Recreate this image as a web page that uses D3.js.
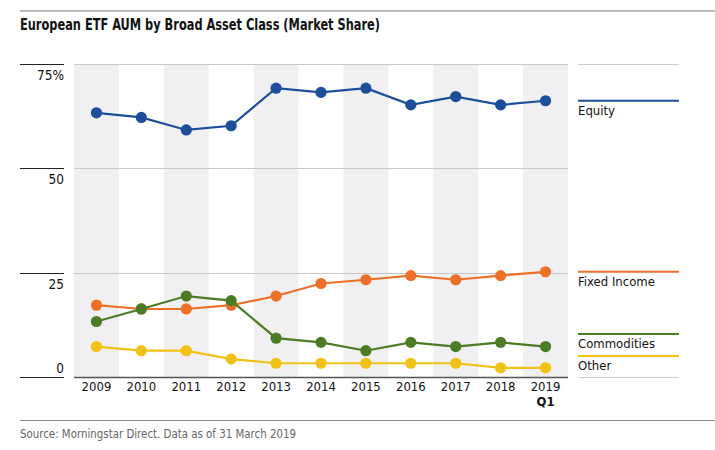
<!DOCTYPE html>
<html>
<head>
<meta charset="utf-8">
<script src="https://cdn.jsdelivr.net/npm/d3@7"></script>
<style>
    body { margin: 0; background: #fff; }
    text { font-family: "DejaVu Sans Condensed", "DejaVu Sans", sans-serif; font-stretch: condensed; }
</style>
</head>
<body>
<script>
// set the dimensions and margins of the graph
var width = 715
var height = 450
var margin = { top: 64, left: 74, right: 147, bottom: 73 }

const years = ['2009', '2010', '2011', '2012', '2013', '2014', '2015', '2016', '2017', '2018', '2019']
const seriesNames = ['Equity', 'Fixed Income', 'Commodities', 'Other']
const seriesColors = ['#1c4e9b', '#ec7028', '#4b7c23', '#f2c116']
const equity      = [63.3, 62.2, 59.2, 60.2, 69.2, 68.2, 69.2, 65.2, 67.2, 65.2, 66.2]
const fixedIncome = [17.2, 16.3, 16.3, 17.2, 19.4, 22.4, 23.3, 24.3, 23.3, 24.3, 25.2]
const commodities = [13.3, 16.3, 19.4, 18.3, 9.3, 8.3, 6.3, 8.3, 7.3, 8.3, 7.3]
const other       = [7.3, 6.3, 6.3, 4.3, 3.3, 3.3, 3.3, 3.3, 3.3, 2.2, 2.2]
const yTicks = [0, 25, 50, 75]
const yTickLabels = ['0', '25', '50', '75%']

const seriesValues = [equity, fixedIncome, commodities, other]

var svg = d3.select("body").append("svg")
    .attr("width", width)
    .attr("height", height);

var xScale = d3.scaleBand()
    .domain(years)
    .range([margin.left, width - margin.right])

var yScale = d3.scaleLinear()
    .domain([0, 75])
    .range([height - margin.bottom, margin.top])

var legendX1 = width - margin.right + 10
var legendX2 = legendX1 + 101

// top rule and title
svg.append("line")
    .attr("x1", 20).attr("x2", width)
    .attr("y1", 11).attr("y2", 11)
    .style("stroke", "#777").style("stroke-width", 1)

svg.append("text")
    .attr("x", 20).attr("y", 30)
    .attr("textLength", 360).attr("lengthAdjust", "spacingAndGlyphs")
    .style("font-size", "16px").style("font-weight", "bold").style("fill", "#111")
    .text("European ETF AUM by Broad Asset Class (Market Share)")

// alternating bands
svg.selectAll("rect.band")
    .data(years.filter((d, i) => i % 2 == 0))
    .enter()
    .append("rect")
    .attr("class", "band")
    .attr("x", d => xScale(d))
    .attr("width", xScale.bandwidth())
    .attr("y", yScale(75))
    .attr("height", yScale(0) - yScale(75))
    .style("fill", "#f0f0f3")

// grid lines: left tick segment, plot, legend column
yTicks.forEach(function (t, i) {
    var y = Math.round(yScale(t)) + 0.5
    svg.append("line")
        .attr("x1", 20).attr("x2", 64).attr("y1", y).attr("y2", y)
        .style("stroke", "#222").style("stroke-width", 1.2)
    svg.append("line")
        .attr("x1", margin.left).attr("x2", width - margin.right).attr("y1", y).attr("y2", y)
        .style("stroke", t == 0 ? "#555" : "#c8c8c8").style("stroke-width", t == 0 ? 1.3 : 1)
    if (t == 0 || t == 75) {
        svg.append("line")
            .attr("x1", legendX1).attr("x2", legendX2).attr("y1", y).attr("y2", y)
            .style("stroke", "#cfcfcf").style("stroke-width", 1)
    }
    svg.append("text")
        .attr("x", 64)
        .attr("y", t == 0 ? y - 5 : y + 15)
        .attr("text-anchor", "end")
        .style("font-size", "13.5px").style("fill", "#111")
        .text(yTickLabels[i])
})

// x axis labels
var xAxis = d3.axisBottom(xScale).tickSize(0).tickPadding(5)
var gx = svg.append("g")
    .attr("transform", "translate(0," + yScale(0) + ")")
    .call(xAxis)
gx.select(".domain").remove()
gx.selectAll("text")
    .style("font-size", "13px").style("fill", "#111")
    .style("font-family", "'DejaVu Sans Condensed', 'DejaVu Sans', sans-serif")
gx.append("text")
    .attr("x", xScale('2019') + xScale.bandwidth() / 2)
    .attr("y", 29)
    .attr("text-anchor", "middle")
    .style("font-size", "13px").style("font-weight", "bold").style("fill", "#111")
    .text("Q1")

// lines and dots
var line = d3.line()
    .x((d, i) => xScale(years[i]) + xScale.bandwidth() / 2)
    .y(d => yScale(d))

seriesValues.forEach(function (vals, s) {
    svg.append("path")
        .datum(vals)
        .attr("d", line)
        .style("fill", "none")
        .style("stroke", seriesColors[s])
        .style("stroke-width", 2.2)

    svg.selectAll("circle.s" + s)
        .data(vals)
        .enter()
        .append("circle")
        .attr("class", "s" + s)
        .attr("cx", (d, i) => xScale(years[i]) + xScale.bandwidth() / 2)
        .attr("cy", d => yScale(d))
        .attr("r", 5.6)
        .style("fill", seriesColors[s])
})

// legend at last values, pushed apart from the bottom up
var legendY = seriesValues.map(v => yScale(v[v.length - 1]))
var limit = yScale(0) - 21
for (var s = seriesValues.length - 1; s >= 0; s--) {
    legendY[s] = Math.min(legendY[s], limit)
    limit = legendY[s] - 22
}

seriesNames.forEach(function (name, s) {
    svg.append("line")
        .attr("x1", legendX1).attr("x2", legendX2)
        .attr("y1", legendY[s]).attr("y2", legendY[s])
        .style("stroke", seriesColors[s]).style("stroke-width", 2)
    svg.append("text")
        .attr("x", legendX1).attr("y", legendY[s] + 14)
        .style("font-size", "13px").style("fill", "#111")
        .text(name)
})

// source
svg.append("line")
    .attr("x1", 20).attr("x2", width)
    .attr("y1", 420.5).attr("y2", 420.5)
    .style("stroke", "#888").style("stroke-width", 1)

svg.append("text")
    .attr("x", 20).attr("y", 438)
    .attr("textLength", 276).attr("lengthAdjust", "spacingAndGlyphs")
    .style("font-size", "13px").style("fill", "#666")
    .text("Source: Morningstar Direct. Data as of 31 March 2019")
</script>
</body>
</html>
